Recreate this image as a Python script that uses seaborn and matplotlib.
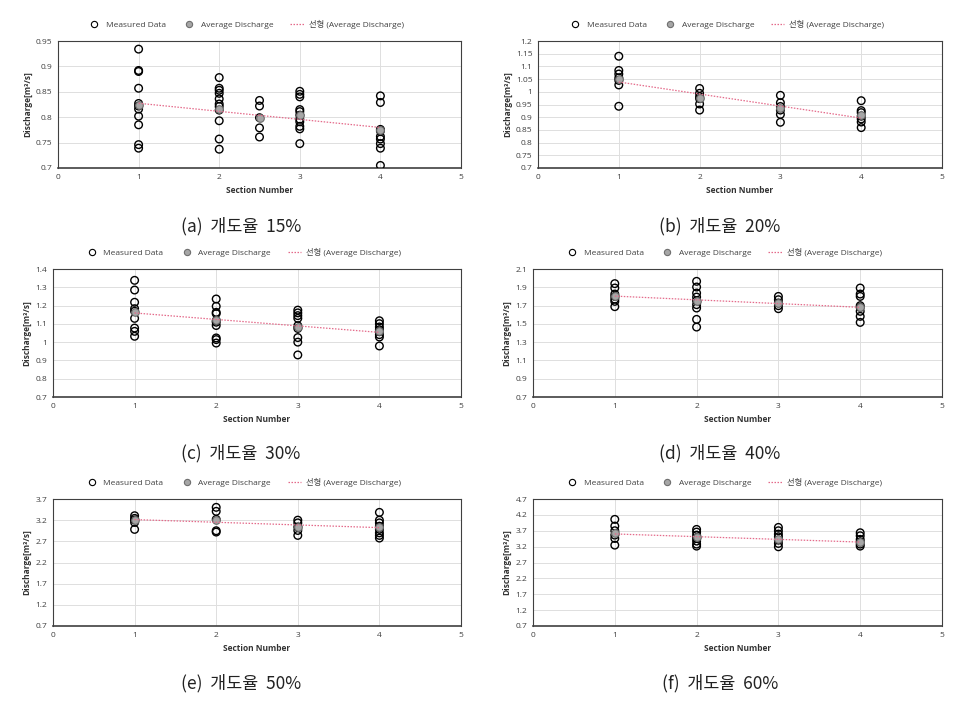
import numpy as np
import pandas as pd
import matplotlib
matplotlib.use("Agg")
import matplotlib.pyplot as plt
from matplotlib.lines import Line2D
from matplotlib.ticker import FuncFormatter
import seaborn as sns

# values, discharge in m3/s per section
sections_a = [1, 2, 2.5, 3, 4]
measured_a = [[0.934, 0.892, 0.890, 0.857, 0.827, 0.822, 0.816, 0.802, 0.785, 0.746, 0.739],
              [0.878, 0.857, 0.853, 0.847, 0.836, 0.826, 0.821, 0.814, 0.793, 0.757, 0.737],
              [0.833, 0.822, 0.799, 0.779, 0.761],
              [0.851, 0.845, 0.840, 0.815, 0.811, 0.804, 0.796, 0.791, 0.782, 0.777, 0.748],
              [0.842, 0.829, 0.776, 0.773, 0.762, 0.757, 0.748, 0.739, 0.705]]
average_a = [0.824, 0.816, 0.799, 0.804, 0.775]

sections_b = [1, 2, 3, 4]
measured_b = [[1.140, 1.084, 1.070, 1.055, 1.045, 1.027, 0.943],
              [1.013, 0.994, 0.981, 0.973, 0.952, 0.928],
              [0.986, 0.957, 0.942, 0.928, 0.911, 0.880],
              [0.965, 0.926, 0.918, 0.904, 0.893, 0.881, 0.859]]
average_b = [1.051, 0.977, 0.935, 0.907]

sections_c = [1, 2, 3, 4]
measured_c = [[1.338, 1.285, 1.218, 1.183, 1.169, 1.130, 1.077, 1.059, 1.032],
              [1.236, 1.196, 1.163, 1.156, 1.118, 1.109, 1.091, 1.023, 1.014, 0.995],
              [1.175, 1.160, 1.145, 1.130, 1.090, 1.075, 1.025, 1.000, 0.930],
              [1.117, 1.101, 1.083, 1.068, 1.057, 1.041, 1.028, 0.979]]
average_c = [1.165, 1.119, 1.083, 1.059]

sections_d = [1, 2, 3, 4]
measured_d = [[1.940, 1.892, 1.826, 1.800, 1.770, 1.746, 1.688],
              [1.965, 1.903, 1.837, 1.793, 1.753, 1.710, 1.673, 1.549, 1.465],
              [1.800, 1.764, 1.728, 1.699, 1.666],
              [1.892, 1.826, 1.800, 1.699, 1.680, 1.637, 1.582, 1.516]]
average_d = [1.808, 1.753, 1.728, 1.680]

sections_e = [1, 2, 3, 4]
measured_e = [[3.305, 3.242, 3.203, 3.147, 2.982],
              [3.503, 3.408, 3.218, 2.950, 2.919],
              [3.200, 3.136, 3.040, 2.957, 2.840],
              [3.384, 3.200, 3.136, 3.057, 2.982, 2.900, 2.840, 2.777]]
average_e = [3.20, 3.20, 3.03, 3.045]

sections_f = [1, 2, 3, 4]
measured_f = [[4.058, 3.847, 3.700, 3.563, 3.458, 3.247],
              [3.742, 3.658, 3.563, 3.458, 3.374, 3.279, 3.216],
              [3.805, 3.700, 3.595, 3.510, 3.405, 3.300, 3.195],
              [3.637, 3.542, 3.426, 3.353, 3.279, 3.216]]
average_f = [3.616, 3.490, 3.426, 3.353]

captions = ["(a)  개도율  15%", "(b)  개도율  20%", "(c)  개도율  30%",
            "(d)  개도율  40%", "(e)  개도율  50%", "(f)  개도율  60%"]
y_min = [0.7, 0.7, 0.7, 0.7, 0.7, 0.7]
y_max = [0.95, 1.2, 1.4, 2.1, 3.7, 4.7]
y_step = [0.05, 0.05, 0.1, 0.2, 0.5, 0.5]

panels = [(sections_a, measured_a, average_a), (sections_b, measured_b, average_b),
          (sections_c, measured_c, average_c), (sections_d, measured_d, average_d),
          (sections_e, measured_e, average_e), (sections_f, measured_f, average_f)]

sns.set_style("white")
plt.rcParams['font.family'] = ['Open Sans', 'Noto Sans CJK KR', 'DejaVu Sans']

W, H = 962, 706
fig = plt.figure(figsize=(W / 100, H / 100), dpi=100)

# axes boxes in pixels: left, right, top, bottom
boxes = [(58, 461, 41, 168), (538, 942, 41, 168),
         (53, 461, 269, 397), (533, 942, 269, 397),
         (53, 461, 499, 626), (533, 942, 499, 626)]
caption_pos = [(241, 226), (720, 226), (241, 453), (720, 453), (241, 683), (720, 683)]

trend_color = "#e46a8a"
avg_face = "#a6a6a6"
avg_edge = "#6e6e6e"

for i, (sections, measured, average) in enumerate(panels):
    l, r, t, b = boxes[i]
    ax = fig.add_axes([l / W, 1 - b / H, (r - l) / W, (b - t) / H])

    df = pd.DataFrame({
        "section": np.repeat(sections, [len(m) for m in measured]),
        "discharge": np.concatenate(measured),
    })
    avg = pd.DataFrame({"section": sections, "discharge": average})

    sns.scatterplot(data=df, x="section", y="discharge", ax=ax, s=30,
                    color="black", linewidth=1.0, zorder=3, legend=False)
    pc = ax.collections[-1]
    pc.set_facecolor("none")
    pc.set_edgecolor("black")

    sns.scatterplot(data=avg, x="section", y="discharge", ax=ax, s=30,
                    color=avg_face, edgecolor=avg_edge, linewidth=0.8, zorder=4, legend=False)

    sns.regplot(data=avg, x="section", y="discharge", ax=ax, scatter=False, ci=None,
                truncate=True, color=trend_color,
                line_kws=dict(lw=0.9, ls=(0, (1.2, 1.2)), zorder=5))

    ax.set_xlim(0, 5)
    ax.set_xticks(range(0, 6))
    ax.set_ylim(y_min[i], y_max[i])
    ax.set_yticks(np.arange(y_min[i], y_max[i] + y_step[i] / 2, y_step[i]))
    ax.yaxis.set_major_formatter(FuncFormatter(lambda v, p: f"{round(v, 2):g}"))
    ax.grid(True, color="#dedede", lw=0.7)
    ax.set_axisbelow(True)
    ax.tick_params(axis="both", length=0, labelsize=6, colors="#404040", pad=4)
    for s in ax.spines.values():
        s.set_color("#404040")
        s.set_linewidth(0.8)
    ax.spines["bottom"].set_linewidth(1.2)

    ax.set_xlabel("Section Number", fontsize=6, fontweight="bold", color="#333333", labelpad=4)
    ax.set_ylabel("Discharge[m³/s]", fontsize=6, fontweight="bold", color="#333333", labelpad=3)

    handles = [
        Line2D([], [], ls="none", marker="o", ms=4.5, mfc="none", mec="black", mew=0.8),
        Line2D([], [], ls="none", marker="o", ms=4.5, mfc=avg_face, mec=avg_edge, mew=0.8),
        Line2D([], [], color=trend_color, lw=0.9, ls=(0, (1.2, 1.2))),
    ]
    labels = ["Measured Data", "Average Discharge", "선형 (Average Discharge)"]
    ax.legend(handles, labels, loc="center", bbox_to_anchor=(0.466, 1.13), ncol=3,
              frameon=False, fontsize=6, columnspacing=2.0, handletextpad=0.6,
              handlelength=1.6, labelcolor="#404040")

    cx, cy = caption_pos[i]
    fig.text(cx / W, 1 - cy / H, captions[i], ha="center", va="center", fontsize=12.5,
             family=["Noto Sans CJK KR", "DejaVu Sans"], fontweight="light", color="#222222")

fig.savefig("out.png", dpi=100, facecolor="white")
